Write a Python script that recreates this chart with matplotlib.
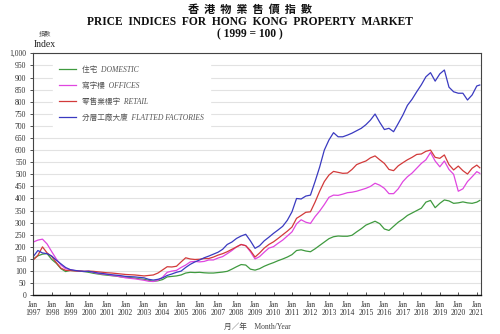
import matplotlib
matplotlib.use("Agg")
import matplotlib.pyplot as plt
import matplotlib.ticker as mticker
import pandas as pd

# Quarterly readings (Jan, Apr, Jul, Oct) from Jan 1997, plus Mar 2021
dates = pd.date_range("1997-01-01", periods=97, freq="QS-JAN").append(
    pd.DatetimeIndex(["2021-03-01"]))

domestic = [
    150, 163, 170, 172,  148, 132, 110, 98,   103, 101, 100, 98,
    95, 91, 88, 85,      83, 81, 79, 76,      75, 73, 71, 68,
    66, 62, 58, 60,      65, 76, 78, 80,      84, 92, 95, 94,
    95, 93, 92, 92,      94, 96, 99, 108,     118, 127, 125, 108,
    104, 110, 120, 128,  135, 143, 150, 158,  168, 185, 188, 183,
    180, 192, 206, 220,  234, 242, 245, 244,  244, 248, 262, 275,
    290, 298, 306, 296,  274, 268, 285, 302,  315, 330, 340, 350,
    360, 385, 392, 362,  380, 394, 390, 380,  382, 386, 382, 380,
    385, 392,
]
offices = [
    220, 228, 232, 212,  180, 150, 125, 110,  106, 102, 100, 98,
    99, 95, 90, 88,      86, 82, 80, 76,      72, 70, 68, 65,
    62, 58, 57, 62,      75, 95, 100, 103,    115, 125, 138, 140,
    138, 140, 146, 146,  154, 160, 172, 185,  200, 210, 205, 180,
    150, 160, 178, 195,  201, 215, 228, 245,  262, 295, 312, 302,
    297, 325, 348, 375,  405, 414, 413, 418,  424, 426, 430, 436,
    442, 450, 463, 455,  442, 420, 420, 440,  470, 490, 505, 525,
    545, 560, 590, 555,  531, 555, 520, 500,  430, 440, 470, 490,
    511, 504,
]
retail = [
    146, 165, 200, 175,  160, 135, 112, 103,  102, 101, 100, 99,
    100, 99, 97, 95,     93, 92, 90, 88,      86, 85, 84, 82,
    80, 82, 84, 92,      105, 118, 117, 120,  138, 155, 150, 148,
    149, 152, 152, 158,  166, 172, 180, 190,  200, 210, 205, 185,
    158, 175, 195, 210,  221, 235, 250, 265,  282, 318, 330, 343,
    345, 385, 430, 470,  497, 512, 508, 504,  505, 520, 540, 548,
    555, 568, 576, 560,  545, 520, 515, 535,  548, 560, 570, 582,
    584, 595, 600, 570,  566, 580, 540, 518,  534, 515, 501, 525,
    538, 527,
]
factories = [
    160, 185, 175, 172,  162, 145, 130, 115,  106, 103, 100, 99,
    99, 96, 92, 90,      87, 85, 83, 81,      78, 77, 76, 74,
    72, 66, 63, 66,      72, 82, 88, 95,      100, 115, 128, 138,
    146, 155, 162, 170,  178, 190, 210, 220,  235, 245, 252, 225,
    194, 205, 225, 240,  256, 270, 285, 310,  345, 400, 398, 410,
    414, 470, 530, 600,  642, 672, 655, 655,  662, 670, 680, 690,
    705, 724, 749, 715,  685, 690, 676, 710,  745, 785, 810, 841,
    870, 903, 920, 885,  915, 931, 860, 841,  835, 835, 807, 828,
    865, 869,
]

series = [
    ("住宅  DOMESTIC", domestic, "#3f9a3f"),
    ("寫字樓  OFFICES", offices, "#e046e0"),
    ("零售業樓宇  RETAIL", retail, "#d23a3a"),
    ("分層工廠大廈  FLATTED FACTORIES", factories, "#3a3ac0"),
]

years = list(range(1997, 2022))
year_labels = [f"Jan\n{y}" for y in years]

SERIF = ["Liberation Serif", "Noto Sans CJK TC", "DejaVu Sans"]
CJK = ["Noto Sans CJK TC", "DejaVu Sans"]

fig = plt.figure(figsize=(5, 3.34), dpi=100)
fig.patch.set_facecolor("white")
ax = fig.add_axes([0.0666, 0.1159, 0.8954, 0.7245])

for label, values, color in series:
    ax.plot(dates, values, color=color, lw=0.9, label=label)

ax.set_ylim(0, 1000)
ax.set_yticks(range(0, 1001, 50))
ax.yaxis.set_major_formatter(mticker.FuncFormatter(lambda v, p: f"{int(v):,}"))
ax.set_xlim(pd.Timestamp("1997-01-01"), pd.Timestamp("2021-03-25"))
ax.set_xticks([pd.Timestamp(f"{y}-01-01") for y in years])
ax.set_xticklabels(year_labels, linespacing=1.05)

ax.grid(axis="y", color="#e2e2e2", lw=0.8)
ax.set_axisbelow(True)
for side in ["left", "right", "top"]:
    ax.spines[side].set_color("#444444")
    ax.spines[side].set_linewidth(0.8)
ax.spines["bottom"].set_color("#111111")
ax.spines["bottom"].set_linewidth(1.0)

ax.tick_params(axis="x", direction="in", length=2, width=0.6, pad=4,
               labelsize=5.5, colors="#333333")
ax.tick_params(axis="y", direction="out", length=2, width=0.6, pad=3,
               labelsize=5.5, colors="#333333")
for t in ax.get_xticklabels() + ax.get_yticklabels():
    t.set_family(SERIF)

leg = ax.legend(loc="upper left", bbox_to_anchor=(0.036, 0.99),
                frameon=True, fancybox=False, edgecolor="white",
                facecolor="white", framealpha=1.0, handlelength=2.2,
                handletextpad=0.8, labelspacing=1.05, borderpad=0.8,
                prop={"family": SERIF, "style": "italic", "size": 5.5})
for t in leg.get_texts():
    t.set_color("#555555")

# Titles and axis captions
fig.text(0.5, 0.972, "香  港  物  業  售  價  指  數", ha="center", va="center",
         family=CJK, fontsize=8, fontweight="bold", color="#111111")
fig.text(0.5, 0.935, "PRICE  INDICES  FOR  HONG  KONG  PROPERTY  MARKET",
         ha="center", va="center", family=SERIF, fontsize=8.3,
         fontweight="bold", color="#111111")
fig.text(0.5, 0.898, "( 1999 = 100 )", ha="center", va="center",
         family=SERIF, fontsize=8.3, fontweight="bold", color="#111111")
fig.text(0.091, 0.898, "指數", ha="center", va="center", family=CJK,
         fontsize=4.5, color="#555555")
fig.text(0.068, 0.866, "Index", ha="left", va="center", family=SERIF,
         fontsize=7, color="#222222")
fig.text(0.515, 0.02, "月／年    Month/Year", ha="center", va="center",
         family=SERIF, fontsize=5.5, color="#444444")

fig.savefig("out.png", dpi=100)
